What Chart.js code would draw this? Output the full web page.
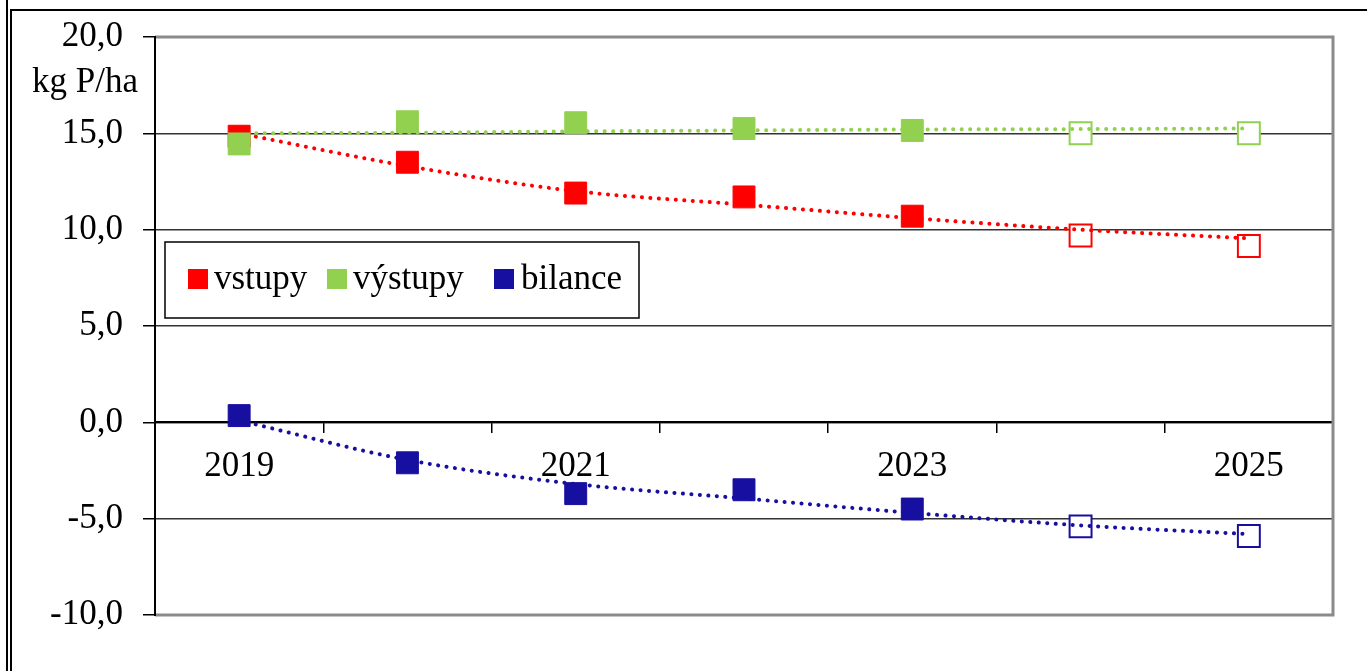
<!DOCTYPE html>
<html>
<head>
<meta charset="utf-8">
<script src="https://cdn.jsdelivr.net/npm/chart.js@4"></script>
<style>
  body { margin:0; background:#fff; }
  #wrap { position:relative; width:1367px; height:671px; overflow:hidden; }
  #c { position:absolute; left:0; top:0; }
  .frameOuter { position:absolute; left:6px; top:0; width:0; height:671px; border-left:2px solid #000; }
  .frameInner { position:absolute; left:10px; top:9px; width:1400px; height:700px; border-left:2px solid #000; border-top:2px solid #000; }
</style>
</head>
<body>
<div id="wrap">
  <canvas id="c" width="1367" height="671"></canvas>
  <div class="frameOuter"></div>
  <div class="frameInner"></div>
</div>
<script>
// data
const years = ['2019', '2020', '2021', '2022', '2023', '2024', '2025'];
const vstupy  = [14.85, 13.5, 11.9, 11.7, 10.7, 9.7, 9.15];
const vystupy = [14.45, 15.6, 15.55, 15.25, 15.15, 15.0, 15.0];
const bilance = [0.35, -2.1, -3.7, -3.5, -4.5, -5.4, -5.9];
// dotted trend lines (as drawn)
const trendVstupy  = [15.0, 13.3, 12.0, 11.3, 10.6, 10.0, 9.55];
const trendVystupy = [15.0, 15.03, 15.1, 15.15, 15.2, 15.22, 15.25];
const trendBilance = [0.1, -1.95, -3.2, -3.95, -4.7, -5.35, -5.8];
const yTicks = [-10, -5, 0, 5, 10, 15, 20];
const forecastFrom = 5; // 2024, 2025 drawn hollow

const RED = '#FF0000', GREEN = '#92D050', BLUE = '#170F9F';
const FONT = '"Liberation Serif", "Times New Roman", serif';
const FS = 35;

function filled(arr){ return arr.map((v,i)=> i < forecastFrom ? v : null); }
function hollow(arr){ return arr.map((v,i)=> i >= forecastFrom ? v : null); }

function markerSet(label, arr, color, isHollow, order){
  return {
    label, data: isHollow ? hollow(arr) : filled(arr), showLine:false,
    pointStyle:'rect', pointRadius:15.5, pointHoverRadius:15.5,
    pointBackgroundColor: isHollow ? '#fff' : color, pointBorderColor: color,
    pointBorderWidth: isHollow ? 2 : 1, order
  };
}
function trendSet(arr, color){
  return {
    label:'trend', data:arr, borderColor:color, borderWidth:4, borderDash:[0.1, 8.4],
    borderCapStyle:'round', pointRadius:0, tension:0.4, cubicInterpolationMode:'monotone', order:5
  };
}

const datasets = [
  markerSet('výstupy', vystupy, GREEN, false, 1),
  markerSet('vstupy', vstupy, RED, false, 2),
  markerSet('bilance', bilance, BLUE, false, 2),
  trendSet(trendVystupy, GREEN),
  trendSet(trendVstupy, RED),
  trendSet(trendBilance, BLUE),
  markerSet('výstupy', vystupy, GREEN, true, 8),
  markerSet('vstupy', vstupy, RED, true, 8),
  markerSet('bilance', bilance, BLUE, true, 8)
];

const legendItems = [
  { text:'vstupy', color:RED, sq:188, tx:214 },
  { text:'výstupy', color:GREEN, sq:327, tx:353 },
  { text:'bilance', color:BLUE, sq:494, tx:521 }
];

// plot border, axis title and the legend box
const decor = {
  id:'decor',
  afterDraw(chart){
    const ctx = chart.ctx, a = chart.chartArea;
    ctx.save();
    ctx.strokeStyle = '#8a8a8a'; ctx.lineWidth = 3;
    ctx.beginPath();
    ctx.moveTo(a.left, a.top); ctx.lineTo(a.right, a.top); ctx.lineTo(a.right, a.bottom); ctx.lineTo(a.left, a.bottom);
    ctx.stroke();
    // y axis line again on top
    ctx.strokeStyle = '#000'; ctx.lineWidth = 2;
    ctx.beginPath(); ctx.moveTo(a.left, a.top - 1); ctx.lineTo(a.left, a.bottom + 1); ctx.stroke();

    ctx.fillStyle = '#000'; ctx.font = FS + 'px ' + FONT;
    ctx.textAlign = 'center'; ctx.textBaseline = 'middle';
    ctx.fillText('kg P/ha', 85, 83);

    // legend
    ctx.fillStyle = '#fff'; ctx.fillRect(165, 242, 474, 76);
    ctx.strokeStyle = '#000'; ctx.lineWidth = 1.5; ctx.strokeRect(165, 242, 474, 76);
    ctx.textAlign = 'left';
    legendItems.forEach(it => {
      ctx.fillStyle = it.color; ctx.fillRect(it.sq, 269, 20, 20);
      ctx.fillStyle = '#000'; ctx.fillText(it.text, it.tx, 280);
    });
    ctx.restore();
  }
};

new Chart(document.getElementById('c'), {
  type:'line',
  data:{ labels:years, datasets },
  plugins:[decor],
  options:{
    responsive:false, animation:false, devicePixelRatio:1,
    layout:{ padding:{ left:0, top:37, right:34, bottom:56 } },
    plugins:{ legend:{ display:false }, tooltip:{ enabled:false } },
    scales:{
      x:{
        type:'category', offset:true, position:{ y:0 },
        afterFit(s){ s.height = 0; s.paddingLeft = 0; s.paddingRight = 0; s.paddingTop = 0; s.paddingBottom = 0; },
        grid:{ offset:true, drawOnChartArea:false, tickLength:10, color:'#000', lineWidth:1.5 },
        border:{ color:'#000', width:2 },
        ticks:{ autoSkip:false, maxRotation:0, padding:13, color:'#000', font:{ family:FONT, size:FS },
          callback:(v,i)=> i % 2 === 0 ? years[i] : '' }
      },
      y:{
        min:-10, max:20,
        afterFit(s){ s.width = 155; s.paddingTop = 0; s.paddingBottom = 0; },
        afterBuildTicks(s){ s.ticks = yTicks.map(v => ({ value:v })); },
        grid:{ color:(c)=> (c.tick.value === 20 || c.tick.value === -10) ? 'rgba(0,0,0,0)' : '#333',
               lineWidth:1.5, tickLength:12, tickColor:'#000' },
        border:{ color:'#000', width:2 },
        ticks:{ padding:20, color:'#000', font:{ family:FONT, size:FS },
          callback:(v)=> v.toFixed(1).replace('.', ',') }
      }
    }
  }
});
</script>
</body>
</html>
